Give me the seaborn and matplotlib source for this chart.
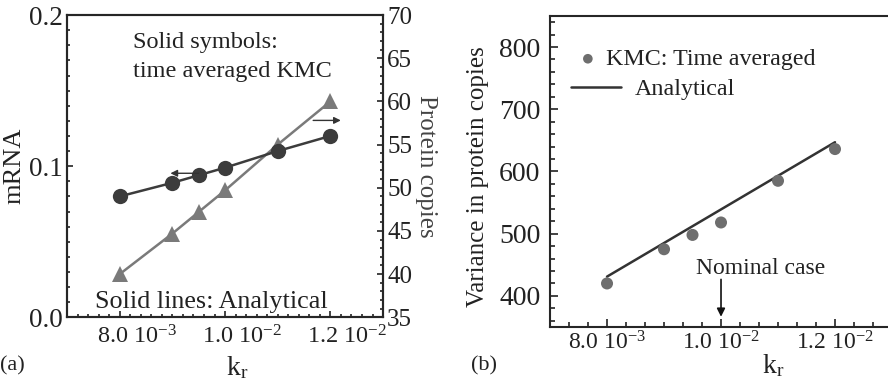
import matplotlib
matplotlib.use('Agg')
import matplotlib.pyplot as plt
import matplotlib.transforms as mtrans
from matplotlib.ticker import MultipleLocator
import seaborn as sns

# ---------------- data ----------------
kr = [8.0e-3, 9.0e-3, 9.5e-3, 1.0e-2, 1.1e-2, 1.2e-2]
mrna = [0.080, 0.089, 0.094, 0.099, 0.110, 0.120]
protein = [40.0, 44.7, 47.2, 49.7, 55.0, 60.0]
var_kmc = [420, 475, 498, 518, 585, 636]
var_analytical = [431, 485, 512, 539, 593, 647]
xticks = [8.0e-3, 1.0e-2, 1.2e-2]
xticklabels = ['8.0 10$^{-3}$', '1.0 10$^{-2}$', '1.2 10$^{-2}$']
mrna_ticks = [0.0, 0.1, 0.2]
mrna_ticklabels = ['0.0', '0.1', '0.2']

sns.set_style('ticks')
plt.rcParams['font.family'] = ['Liberation Serif', 'DejaVu Serif']
plt.rcParams['mathtext.default'] = 'regular'
plt.rcParams['axes.linewidth'] = 1.5
TXT = '#222222'

fig = plt.figure(figsize=(8.88, 3.86), dpi=100)

# ---------------- panel (a) ----------------
ax = fig.add_axes([0.0755, 0.178, 0.3559, 0.783])
ax2 = ax.twinx()
sns.lineplot(x=kr, y=protein, ax=ax2, color='#7a7a7a', marker='^', markersize=11,
             markeredgewidth=0, lw=1.8)
sns.lineplot(x=kr, y=mrna, ax=ax, color='#3c3c3c', marker='o', markersize=11,
             markeredgewidth=0, lw=1.8)
ax.set_zorder(ax2.get_zorder() + 1)
ax.patch.set_visible(False)

ax.set_xlim(7e-3, 1.3e-2)
ax.set_ylim(0, 0.2)
ax2.set_ylim(35, 70)
ax.set_yticks(mrna_ticks)
ax.set_yticklabels(mrna_ticklabels)
ax.yaxis.set_minor_locator(MultipleLocator(0.01))
ax2.yaxis.set_major_locator(MultipleLocator(5))
ax2.yaxis.set_minor_locator(MultipleLocator(1))
ax.set_xticks(xticks)
ax.set_xticklabels(xticklabels)
ax.xaxis.set_minor_locator(MultipleLocator(2e-4))

ax.tick_params(axis='both', which='both', direction='in', top=False, right=False,
               width=1.2, colors=TXT)
ax.tick_params(which='major', length=4.5)
ax.tick_params(which='minor', length=2.5)
ax.tick_params(axis='y', labelsize=19.5, pad=3)
ax.tick_params(axis='x', labelsize=17.5, pad=6)
ax2.tick_params(axis='y', which='both', direction='in', width=1.2, labelsize=18, pad=3,
                colors=TXT)
ax2.tick_params(which='major', length=4.5)
ax2.tick_params(which='minor', length=2.5)
for lbl in ax.get_xticklabels():
    lbl.set_transform(lbl.get_transform() + mtrans.ScaledTranslation(0.17, 0, fig.dpi_scale_trans))

ax.set_xlabel('k$_{r}$', fontsize=20, color=TXT)
ax.xaxis.set_label_coords(0.538, -0.122)
ax.set_ylabel('mRNA', fontsize=19, color=TXT)
ax.yaxis.set_label_coords(-0.133, 0.5)
ax2.set_ylabel('Protein copies', fontsize=18, rotation=-90, va='bottom', color='#444444')
ax2.yaxis.set_label_coords(1.101, 0.5)

ax.text(0.209, 0.891, 'Solid symbols:', transform=ax.transAxes, fontsize=17.5,
        va='baseline', ha='left', color=TXT)
ax.text(0.209, 0.794, 'time averaged KMC', transform=ax.transAxes, fontsize=17.5,
        va='baseline', ha='left', color=TXT)
ax.text(0.0886, 0.030, 'Solid lines: Analytical', transform=ax.transAxes, fontsize=18.8,
        va='baseline', ha='left', color=TXT)

ax.annotate('', xy=(8.91e-3, 0.0953), xytext=(9.55e-3, 0.0953),
            arrowprops=dict(arrowstyle='-|>', color='#333333', lw=1.0, mutation_scale=10))
ax2.annotate('', xy=(1.225e-2, 57.8), xytext=(1.162e-2, 57.8),
             arrowprops=dict(arrowstyle='-|>', color='#333333', lw=1.0, mutation_scale=10))

fig.text(0.0, 0.04, '(a)', fontsize=16, color=TXT, va='baseline', ha='left')

# ---------------- panel (b) ----------------
ax3 = fig.add_axes([0.6194, 0.1528, 0.3851, 0.806])
sns.lineplot(x=kr, y=var_analytical, ax=ax3, color='#333333', lw=1.8, label='Analytical')
sns.scatterplot(x=kr, y=var_kmc, ax=ax3, color='#6e6e6e', s=75, edgecolor='none',
                label='KMC: Time averaged', zorder=3)
handles, labels = ax3.get_legend_handles_labels()
if ax3.get_legend() is not None:
    ax3.get_legend().remove()
hmap = dict(zip(labels, handles))

ax3.set_xlim(7e-3, 1.3e-2)
ax3.set_ylim(350, 850)
ax3.yaxis.set_major_locator(MultipleLocator(100))
ax3.yaxis.set_minor_locator(MultipleLocator(20))
ax3.set_xticks(xticks)
ax3.set_xticklabels(xticklabels)
ax3.xaxis.set_minor_locator(MultipleLocator(1e-3 / 3))
ax3.tick_params(axis='both', which='both', direction='in', top=False, right=False,
                width=1.2, colors=TXT)
ax3.tick_params(which='major', length=6)
ax3.tick_params(which='minor', length=3.3)
ax3.tick_params(axis='y', labelsize=20, pad=7)
ax3.tick_params(axis='x', labelsize=17, pad=3)

ax3.set_xlabel('k$_{r}$', fontsize=20, color=TXT)
ax3.xaxis.set_label_coords(0.652, -0.08)
ax3.set_ylabel('Variance in protein copies', fontsize=18, color=TXT)
ax3.yaxis.set_label_coords(-0.178, 0.482)

leg1 = ax3.legend([hmap['KMC: Time averaged']], ['KMC: Time averaged'], loc='center left',
                  bbox_to_anchor=(0.079, 0.861), frameon=False, handlelength=0.9,
                  handletextpad=0.3, borderpad=0, borderaxespad=0, fontsize=17.3,
                  markerscale=0.8)
for t in leg1.get_texts():
    t.set_color(TXT)
ax3.add_artist(leg1)
leg2 = ax3.legend([hmap['Analytical']], ['Analytical'], loc='center left',
                  bbox_to_anchor=(0.0614, 0.764), frameon=False, handlelength=2.1,
                  handletextpad=0.55, borderpad=0, borderaxespad=0, fontsize=17.3)
for t in leg2.get_texts():
    t.set_color(TXT)

ax3.annotate('', xy=(1.0e-2, 362), xytext=(1.0e-2, 431),
             arrowprops=dict(arrowstyle='-|>', color='#111111', lw=1.2, mutation_scale=12))
ax3.text(9.56e-3, 436, 'Nominal case', fontsize=17, color=TXT, va='baseline', ha='left')

fig.text(0.530, 0.041, '(b)', fontsize=16, color=TXT, va='baseline', ha='left')

fig.savefig('out.png', dpi=100)
